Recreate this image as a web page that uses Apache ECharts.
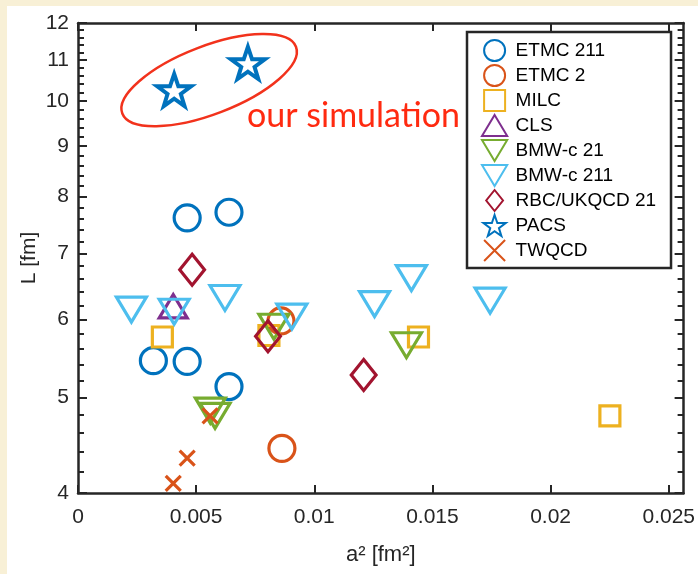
<!DOCTYPE html>
<html>
<head>
<meta charset="utf-8">
<script src="https://cdn.jsdelivr.net/npm/echarts@6/dist/echarts.min.js"></script>
<style>
  html, body { margin: 0; padding: 0; background: #F8F0D6; }
  #paper { position: absolute; left: 7px; top: 6px; width: 691px; height: 568px; background: #ffffff; }
  #main { position: absolute; left: 0; top: 0; width: 698px; height: 574px; }
</style>
</head>
<body>
<div id="paper"></div>
<div id="main"></div>
<script>
// ---- data (a^2 [fm^2], L [fm]) ----
const etmc211 = [[0.00462, 7.61], [0.00639, 7.71], [0.00319, 5.45], [0.00462, 5.44], [0.00639, 5.13]];
const etmc2 = [[0.00863, 4.44], [0.00859, 5.98]];
const milc = [[0.00357, 5.76], [0.00808, 5.78], [0.01441, 5.76], [0.02251, 4.79]];
const cls = [[0.00403, 6.19]];
const bmw21 = [[0.0056, 4.85], [0.0058, 4.79], [0.00829, 5.90], [0.0139, 5.65]];
const bmw211 = [[0.00226, 6.14], [0.00407, 6.11], [0.00622, 6.31], [0.00905, 6.04], [0.01255, 6.22], [0.01411, 6.61], [0.01744, 6.27]];
const rbc21 = [[0.00483, 6.74], [0.00804, 5.77], [0.01209, 5.27]];
const pacs = [[0.00407, 10.26], [0.00719, 10.93]];
const twqcd = [[0.00559, 4.79], [0.00462, 4.34], [0.00403, 4.09]];

const seriesNames = ['ETMC 211', 'ETMC 2', 'MILC', 'CLS', 'BMW-c 21', 'BMW-c 211', 'RBC/UKQCD 21', 'PACS', 'TWQCD'];
const xTicks = [0, 0.005, 0.01, 0.015, 0.02, 0.025];
const yTicks = [4, 5, 6, 7, 8, 9, 10, 11, 12];
const yMinorTicks = [];
for (let v = 4.2; v < 12; v += 0.2) { const r = Math.round(v * 10) / 10; if (Math.abs(r - Math.round(r)) > 1e-6) yMinorTicks.push(r); }

const INK = '#262626';
const FONT = 'Arial, "Liberation Sans", Helvetica, sans-serif';
const STAR = 'path://M50,0 L61.8,35.1 L98.1,35.1 L68.8,56.7 L79.4,91 L50,70 L20.6,91 L31.2,56.7 L1.9,35.1 L38.2,35.1 Z';
const CROSS = 'path://M0,0 L10,10 M10,0 L0,10';
const TRI_DOWN = 'path://M0,0 L12,0 L6,10 Z';
const TRI_UP = 'path://M6,0 L12,10 L0,10 Z';
const SQUARE = 'path://M0,0 L10,0 L10,10 L0,10 Z';
const DIAMOND = 'path://M4,0 L8,5 L4,10 L0,5 Z';

function hollow(name, data, color, symbol, size, bw) {
  return {
    name, type: 'scatter', data, symbol, symbolSize: size, symbolKeepAspect: true,
    xAxisIndex: 0, yAxisIndex: 0,
    itemStyle: { color: 'rgba(0,0,0,0)', borderColor: color, borderWidth: bw || 3, opacity: 1 },
    emphasis: { disabled: true }
  };
}

const xBase = {
  type: 'value', min: 0, max: 0.02563, interval: 0.005, gridIndex: 0,
  splitLine: { show: false },
  axisLine: { show: true, onZero: false, lineStyle: { color: INK, width: 2.5 } },
};
const yBase = {
  type: 'log', logBase: 10, min: 4, max: 12, gridIndex: 0,
  splitLine: { show: false },
};

const chart = echarts.init(document.getElementById('main'), null, { renderer: 'canvas' });
chart.setOption({
  animation: false,
  backgroundColor: 'transparent',
  textStyle: { fontFamily: FONT },
  grid: { left: 78, right: 11, top: 23, bottom: 81, containLabel: false },
  xAxis: [
    Object.assign({}, xBase, {
      position: 'bottom',
      name: 'a² [fm²]', nameLocation: 'middle', nameGap: 51, nameMoveOverlap: false,
      nameTextStyle: { fontSize: 22, color: INK, fontFamily: FONT },
      axisTick: { show: true, inside: true, length: 8, customValues: xTicks, lineStyle: { color: INK, width: 2 } },
      axisLabel: { customValues: xTicks, fontSize: 21, color: INK, fontFamily: FONT, margin: 14, formatter: v => String(+v.toFixed(4)) }
    }),
    Object.assign({}, xBase, {
      position: 'top',
      axisTick: { show: true, inside: true, length: 8, customValues: xTicks, lineStyle: { color: INK, width: 2 } },
      axisLabel: { show: false }
    })
  ],
  yAxis: [
    Object.assign({}, yBase, {
      position: 'left',
      name: 'L [fm]', nameLocation: 'middle', nameGap: 38, nameMoveOverlap: false,
      nameTextStyle: { fontSize: 21, color: INK, fontFamily: FONT },
      axisLine: { show: true, lineStyle: { color: INK, width: 2.5 } },
      axisTick: { show: true, inside: true, length: 9, customValues: yTicks, lineStyle: { color: INK, width: 2 } },
      axisLabel: { customValues: yTicks, fontSize: 21, color: INK, fontFamily: FONT, margin: 9 }
    }),
    Object.assign({}, yBase, {
      position: 'left',
      axisLine: { show: false },
      axisTick: { show: true, inside: true, length: 6, customValues: yMinorTicks, lineStyle: { color: INK, width: 2 } },
      axisLabel: { show: false }
    }),
    Object.assign({}, yBase, {
      position: 'right',
      axisLine: { show: true, lineStyle: { color: INK, width: 2.5 } },
      axisTick: { show: true, inside: true, length: 9, customValues: yTicks, lineStyle: { color: INK, width: 2 } },
      axisLabel: { show: false }
    }),
    Object.assign({}, yBase, {
      position: 'right',
      axisLine: { show: false },
      axisTick: { show: true, inside: true, length: 6, customValues: yMinorTicks, lineStyle: { color: INK, width: 2 } },
      axisLabel: { show: false }
    })
  ],
  legend: {
    orient: 'vertical', left: 467, top: 32,
    padding: [7, 15, 6, 14],
    itemWidth: 26, itemHeight: 21, itemGap: 2,
    symbolKeepAspect: true,
    backgroundColor: '#ffffff', borderColor: INK, borderWidth: 2.5,
    textStyle: { fontSize: 19, lineHeight: 19, color: '#000000', fontFamily: FONT, padding: [0, 0, 0, 3] },
    selectedMode: false,
    data: seriesNames
  },
  series: [
    hollow(seriesNames[0], etmc211, '#0072BD', 'circle', 26, 3.2),
    hollow(seriesNames[1], etmc2, '#D95319', 'circle', 26, 3.2),
    hollow(seriesNames[2], milc, '#EDB120', SQUARE, 20, 3.2),
    hollow(seriesNames[3], cls, '#7E2F8E', TRI_UP, 28, 3.2),
    hollow(seriesNames[4], bmw21, '#77AC30', TRI_DOWN, 30, 3.2),
    hollow(seriesNames[5], bmw211, '#4DBEEE', TRI_DOWN, 30, 3.2),
    hollow(seriesNames[6], rbc21, '#A2142F', DIAMOND, 31, 3.2),
    hollow(seriesNames[7], pacs, '#0072BD', STAR, 34, 4),
    hollow(seriesNames[8], twqcd, '#D95319', CROSS, 15, 3.2)
  ]
});

// annotation placed in data coordinates
const ellC = chart.convertToPixel({ gridIndex: 0 }, [0.00555, 10.5]);
const txtP = chart.convertToPixel({ gridIndex: 0 }, [0.00715, 9.66]);
chart.setOption({
  graphic: [
    {
      type: 'ellipse', x: ellC[0], y: ellC[1], rotation: 21 * Math.PI / 180,
      shape: { cx: 0, cy: 0, rx: 93, ry: 34 },
      style: { fill: 'none', stroke: '#F2321C', lineWidth: 2.5 }, z: 100
    },
    {
      type: 'text', x: txtP[0], y: txtP[1],
      style: { text: 'our simulation', fontSize: 34, fontFamily: 'Lato', fill: '#FF2A10', align: 'left', verticalAlign: 'middle' }, z: 100
    }
  ]
});
</script>
</body>
</html>
